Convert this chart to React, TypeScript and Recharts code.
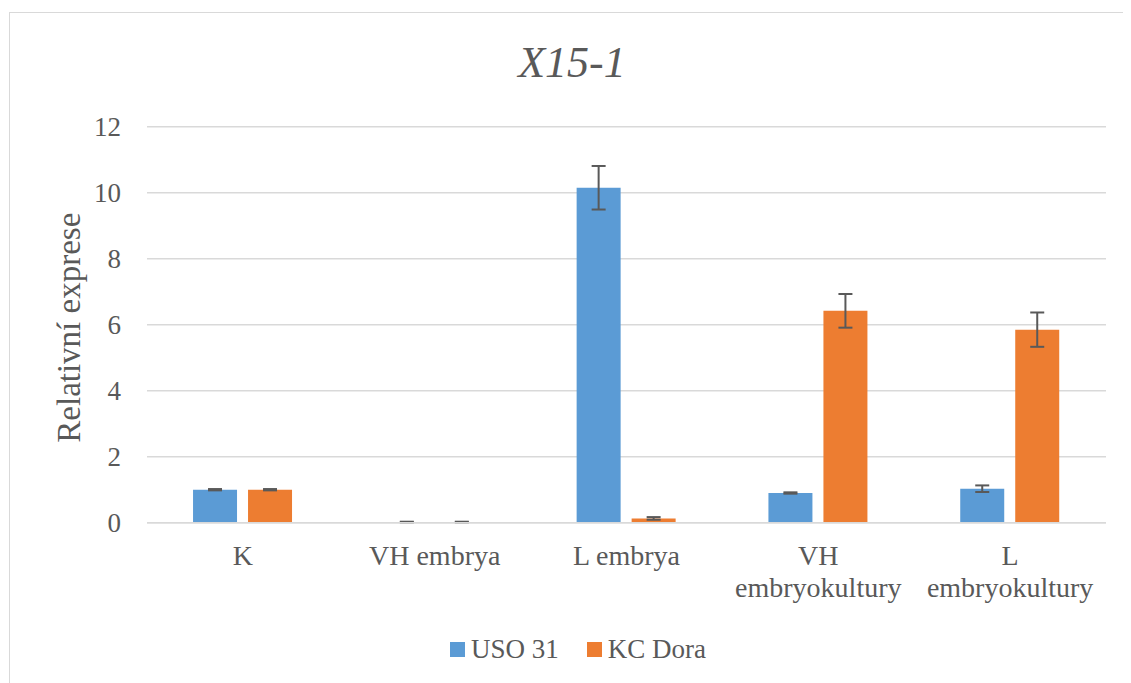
import React from 'react';
import { BarChart, Bar, XAxis, YAxis, CartesianGrid, ErrorBar, Legend } from 'recharts';

const categories = ['K', 'VH embrya', 'L embrya', 'VH embryokultury', 'L embryokultury'];
const usoValues = [1.0, 0.02, 10.15, 0.9, 1.03];
const usoErrors = [0.02, 0.01, 0.66, 0.02, 0.1];
const doraValues = [1.0, 0.02, 0.13, 6.42, 5.85];
const doraErrors = [0.02, 0.01, 0.04, 0.51, 0.52];
const yTicks = [0, 2, 4, 6, 8, 10, 12];
const seriesNames = ['USO 31', 'KC Dora'];
const seriesColors = ['#5B9BD5', '#ED7D31'];
const chartTitle = 'X15-1';
const yTitle = 'Relativní exprese';

const data = categories.map((c, i) => ({
  category: c,
  uso: usoValues[i],
  usoErr: usoErrors[i],
  dora: doraValues[i],
  doraErr: doraErrors[i],
}));

const FONT = '"Liberation Serif", "Times New Roman", serif';
const TEXT = '#595959';
const GRID = '#d9d9d9';

const wrapLabel = (s: string): string[] => {
  if (s.length <= 12) return [s];
  const idx = s.indexOf(' ');
  return idx > 0 ? [s.slice(0, idx), s.slice(idx + 1)] : [s];
};

const XTick = (props: any) => {
  const { x, y, payload } = props;
  const lines = wrapLabel(String(payload.value));
  return (
    <text x={x} y={y + 42.3} textAnchor="middle" fill={TEXT} fontSize={28} fontFamily={FONT}>
      {lines.map((l, i) => (
        <tspan key={i} x={x} dy={i === 0 ? 0 : 32}>
          {l}
        </tspan>
      ))}
    </text>
  );
};

const LegendContent = () => (
  <div style={{ display: 'flex', alignItems: 'center', fontFamily: FONT, fontSize: 27, lineHeight: '27px', color: TEXT }}>
    {seriesNames.map((n, i) => (
      <div key={n} style={{ display: 'flex', alignItems: 'center', marginRight: 28 }}>
        <div style={{ width: 15, height: 15, background: seriesColors[i], marginRight: 6 }} />
        <span>{n}</span>
      </div>
    ))}
  </div>
);

export default function App() {
  return (
    <div style={{ position: 'relative', width: 1123, height: 675, overflow: 'hidden', background: '#fff' }}>
      <div
        style={{
          position: 'absolute',
          left: 1,
          top: 4,
          width: 2000,
          height: 2000,
          borderLeft: `1.5px solid ${GRID}`,
          borderTop: `1.5px solid ${GRID}`,
        }}
      />
      <div
        style={{
          position: 'absolute',
          left: 0,
          width: 1128,
          top: 33,
          textAlign: 'center',
          fontFamily: FONT,
          fontStyle: 'italic',
          fontSize: 44,
          lineHeight: '44px',
          color: TEXT,
        }}
      >
        {chartTitle}
      </div>
      <div style={{ position: 'absolute', left: 0, top: 0 }}>
        <BarChart
          width={1123}
          height={675}
          data={data}
          margin={{ top: 118.7, right: 25, bottom: 60.3, left: 0 }}
          barCategoryGap="24%"
          barGap={11}
        >
          <CartesianGrid horizontal vertical={false} stroke={GRID} strokeWidth={1.5} />
          <XAxis
            dataKey="category"
            height={100}
            axisLine={{ stroke: GRID, strokeWidth: 1.5 }}
            tickLine={false}
            tickSize={0}
            tickMargin={0}
            interval={0}
            tick={(p: any) => <XTick {...p} />}
          />
          <YAxis
            width={139}
            domain={[0, 12]}
            ticks={yTicks}
            axisLine={false}
            tickLine={false}
            tickSize={0}
            tickMargin={26}
            tick={{ fill: TEXT, fontSize: 27, fontFamily: FONT }}
            label={{
              content: (p: any) => {
                const vb = p.viewBox || { x: 0, y: 118.7, height: 396 };
                const x = vb.x + 72;
                const y = vb.y + vb.height / 2 + 3;
                return (
                  <text
                    x={x}
                    y={y}
                    transform={`rotate(-90, ${x}, ${y})`}
                    textAnchor="middle"
                    fill={TEXT}
                    fontSize={33}
                    fontFamily={FONT}
                  >
                    {yTitle}
                  </text>
                );
              },
            }}
          />
          <Legend
            layout="horizontal"
            verticalAlign="middle"
            align="center"
            wrapperStyle={{ position: 'absolute', top: 628, left: 442, width: 400, height: 27 }}
            content={() => <LegendContent />}
          />
          <Bar dataKey="uso" name={seriesNames[0]} fill={seriesColors[0]} isAnimationActive={false}>
            <ErrorBar dataKey="usoErr" direction="y" width={7} stroke={TEXT} strokeWidth={2} isAnimationActive={false} />
          </Bar>
          <Bar dataKey="dora" name={seriesNames[1]} fill={seriesColors[1]} isAnimationActive={false}>
            <ErrorBar dataKey="doraErr" direction="y" width={7} stroke={TEXT} strokeWidth={2} isAnimationActive={false} />
          </Bar>
        </BarChart>
      </div>
    </div>
  );
}
